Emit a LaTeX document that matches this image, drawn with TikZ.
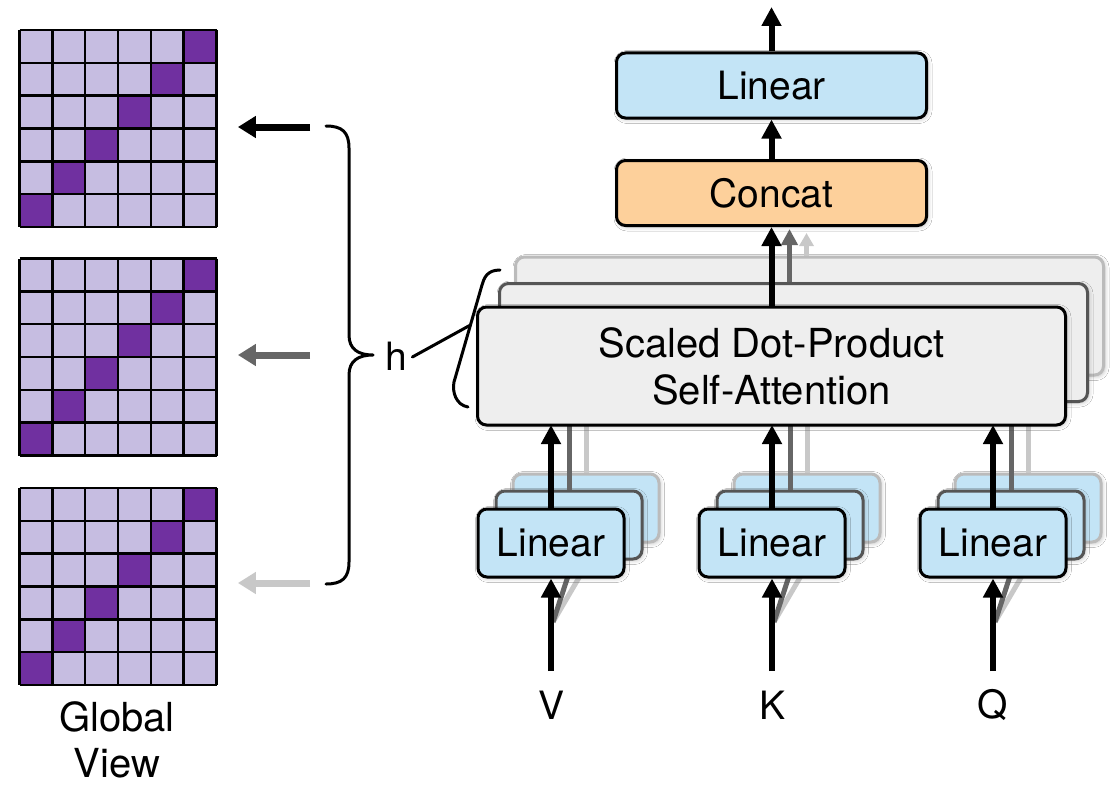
\documentclass[tikz,border=0pt]{standalone}
\usepackage{fontspec}
\setmainfont{TeX Gyre Heros}
\usetikzlibrary{arrows.meta,shadows.blur,calc}
\definecolor{lblue}{HTML}{C3E4F6}
\definecolor{peach}{HTML}{FDD09B}
\definecolor{agray}{HTML}{EEEEEE}
\definecolor{gl}{HTML}{C6BDE1}
\definecolor{gd}{HTML}{7030A0}
\definecolor{dgray}{HTML}{666666}
\definecolor{lgray}{HTML}{C8C8C8}
\definecolor{mborder}{HTML}{555555}
\definecolor{bborder}{HTML}{BBBBBB}
\begin{document}
\begin{tikzpicture}[x=1pt,y=-1pt,
  every node/.style={font=\fontsize{39}{47}\selectfont},
  box/.style={draw, rounded corners=9pt, line width=3pt, inner sep=0pt,
    blur shadow={shadow xshift=1.5pt, shadow yshift=-1.5pt, shadow blur radius=4pt, shadow opacity=25}},
  linbox/.style={box, fill=lblue, minimum width=146pt, minimum height=68pt},
  attbox/.style={box, fill=agray, minimum width=588pt, minimum height=118pt, align=center},
  topbox/.style={box, minimum width=310pt, minimum height=65pt},
  blk/.style={line width=6pt, -{Triangle[length=19pt,width=19pt]}},
  dgr/.style={draw=dgray, line width=5pt, -{Triangle[length=16pt,width=16pt]}},
  lgr/.style={draw=lgray, line width=5pt, -{Triangle[length=13pt,width=14pt]}},
  dline/.style={draw=dgray, line width=5pt},
  lline/.style={draw=lgray, line width=5pt},
  brace/.style={line width=3pt, line cap=round, line join=round}
]
\useasboundingbox (0,0) rectangle (1115,784);
\fill[white] (0,0) rectangle (1115,784);

% ---------- grids ----------
\foreach \gy [count=\gi] in {30,258.5,488} {
  \fill[gl] (19.5,\gy) rectangle ++(197,197);
  \foreach \r in {0,...,5} {
    \fill[gd] ({19.5+(5-\r)*32.833},{\gy+\r*32.833}) rectangle ++(32.833,32.833);
  }
  \foreach \k in {0,...,6} {
    \draw[line width=2.5pt] ({19.5+\k*32.833},\gy) -- ++(0,197);
    \draw[line width=2.5pt] (19.5,{\gy+\k*32.833}) -- ++(197,0);
  }
  \node[minimum size=197pt, inner sep=0pt, anchor=north west] (g\gi) at (19.5,\gy) {};
}
\node[anchor=north, inner sep=0pt, align=center, font=\fontsize{40}{46}\selectfont] (gv) at (117,701) {Global\\View};

% ---------- left arrows ----------
\coordinate (a1) at (310,127);
\coordinate (a2) at (310,355);
\coordinate (a3) at (310,583);
\draw[line width=7pt, -{Triangle[length=18pt,width=21pt]}] (a1) -- ([xshift=21pt]g1.east |- a1);
\draw[draw=dgray, line width=7pt, -{Triangle[length=18pt,width=21pt]}] (a2) -- ([xshift=21pt]g2.east |- a2);
\draw[draw=lgray, line width=7pt, -{Triangle[length=18pt,width=21pt]}] (a3) -- ([xshift=21pt]g3.east |- a3);

% ---------- big brace and h ----------
\draw[brace] (326,126) .. controls (342,126) and (349,132) .. (349,148) -- (349,335)
  .. controls (349,349) and (358,355) .. (373,355)
  .. controls (358,355) and (349,361) .. (349,375) -- (349,562)
  .. controls (349,578) and (342,584) .. (326,584);
\node (h) at (396,356) {h};
\coordinate (bt) at (470.5,325);
\draw[brace] (500,270) .. controls (487,270) and (484,278) .. (482,285) -- (454,382)
  .. controls (452,392) and (456,405) .. (468,407);
\draw[brace] ([xshift=2pt,yshift=-1pt]h.east) -- (bt);

% ---------- linear boxes: back ----------
\foreach \n/\cx in {V/551,K/772,Q/993} {
  \node[linbox, draw=bborder] (lin\n3) at ({\cx+35},508) {};
}
\foreach \n in {V,K,Q} {
  \draw[lline] (lin\n3.north) -- (lin\n3.north |- 0,375);
}
% middle
\foreach \n/\cx in {V/551,K/772,Q/993} {
  \node[linbox, draw=mborder] (lin\n2) at ({\cx+18},525) {};
}
\foreach \n in {V,K,Q} {
  \draw[dline] (lin\n2.north) -- (lin\n2.north |- 0,402);
}
% input letters and fans
\foreach \n/\cx in {V/551,K/772,Q/993} {
  \node (\n) at (\cx,705) {\n};
  \coordinate (\n in) at (\cx,671);
  \coordinate (\n fan) at ({\cx+2},622);
  \draw[lline] (\n fan) -- ([xshift=-2pt,yshift=8pt]lin\n3.south |- 0,577);
  \draw[dline] (\n fan) -- ([yshift=4pt]lin\n2.south |- 0,577);
}
% front
\foreach \n/\cx in {V/551,K/772,Q/993} {
  \node[linbox] (lin\n1) at (\cx,543) {Linear};
  \draw[blk] (\n in) -- (lin\n1.south);
  \draw[blk] (lin\n1.north) -- (lin\n1.north |- 0,425);
}

% ---------- top boxes ----------
\node[topbox, fill=lblue] (lintop) at (771.5,85.5) {Linear};
\node[topbox, fill=peach] (concat) at (771.5,193) {Concat};
\coordinate (out) at (771.5,7);
\draw[blk] (lintop.north) -- (out);
\draw[blk] (concat.north) -- (lintop.south);

% ---------- attention stack ----------
\node[attbox, draw=bborder] (att3) at (809.5,316) {};
\draw[lgr] ([xshift=-3pt]att3.north) -- ([xshift=-3pt,yshift=-6pt]att3.north |- concat.south);
\node[attbox, draw=mborder] (att2) at (793.5,342.5) {};
\draw[dgr] ([xshift=-4pt]att2.north) -- ([xshift=-4pt,yshift=-2pt]att2.north |- concat.south);
\node[attbox, font=\fontsize{40}{47}\selectfont] (att1) at (771.5,366) {Scaled Dot-Product\\Self-Attention};
\draw[blk] (att1.north) -- (att1.north |- concat.south);
\end{tikzpicture}
\end{document}
